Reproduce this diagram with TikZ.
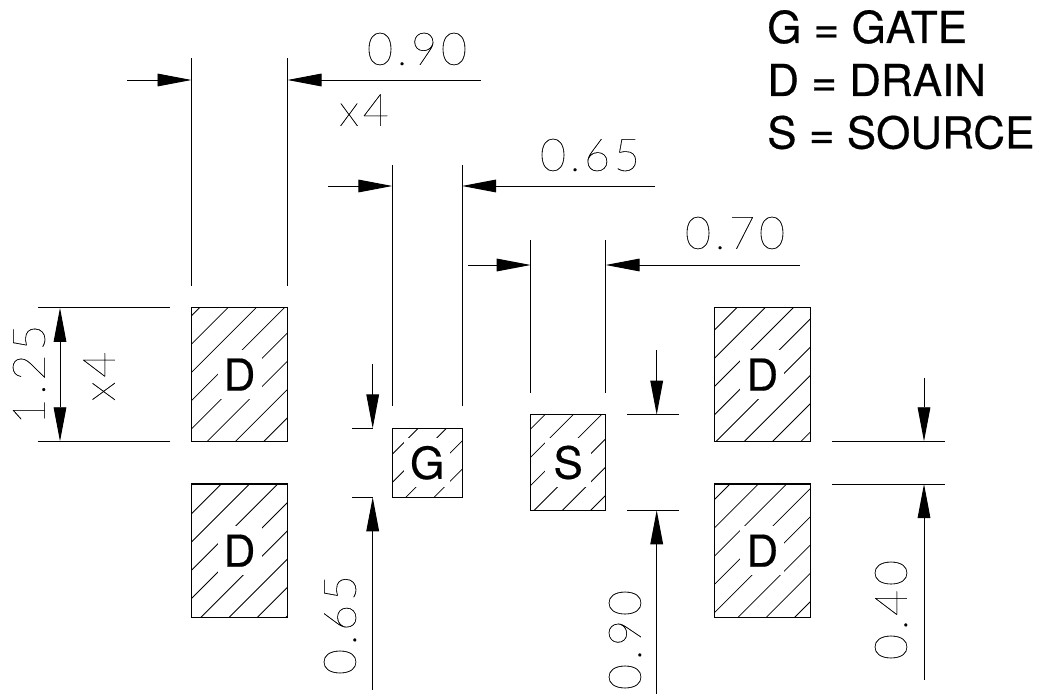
\documentclass[tikz,border=0pt]{standalone}
\usepackage{fontspec}
\setmainfont[FakeBold=0.4]{TeX Gyre Heros}
\newfontfamily\cadfont[LetterSpace=8,FakeBold=0.2]{Lato Thin}
\usetikzlibrary{arrows.meta,calc}
\tikzset{padbox/.style={draw=black,line width=0.8pt,inner sep=0pt,outer sep=0pt},
  padlabel/.style={fill=white,inner sep=0pt,minimum width=33pt,minimum height=36.75pt,font=\fontsize{33}{33}\selectfont},
  dimarrow/.style={line width=0.7pt,-{Triangle[length=25.5pt,width=9.5pt]}},
  extline/.style={line width=0.7pt},
  dimtext/.style={inner sep=0pt,font=\cadfont\fontsize{34}{34}\selectfont},
  keytext/.style={inner sep=0pt,anchor=base west,font=\fontsize{33}{33}\selectfont}}

\begin{document}
\begin{tikzpicture}[x=0.75pt,y=-0.75pt]
\useasboundingbox (0,0) rectangle (1043,698);

\node[padbox,minimum width=72pt,minimum height=100pt] (d1) at (239.5,374.6) {};
\node[padbox,minimum width=72pt,minimum height=100pt] (d2) at (239.5,550.7) {};
\node[padbox,minimum width=72pt,minimum height=100pt] (d3) at (762.3,374.6) {};
\node[padbox,minimum width=72pt,minimum height=100pt] (d4) at (762.3,550.7) {};
\node[padbox,minimum width=52.3pt,minimum height=51.75pt] (g) at (427.2,462.8) {};
\node[padbox,minimum width=56.25pt,minimum height=71.7pt] (s) at (568.2,462.5) {};

% hatching, one set of lines for all pads
\foreach \p in {d1,d2,d3,d4,g,s}
         {
           \begin{scope}
           \clip (\p.north west) rectangle (\p.south east);
           \foreach \k in {0,...,40}
                    {
                      \pgfmathsetmacro{\c}{507.3+28.27*\k}
                      \draw[line width=0.6pt] (\c,0) -- (0,\c);
                    }
           \end{scope}
         }

\node[padlabel] (d1l) at (d1) {D};
\node[padlabel] (d2l) at (d2) {D};
\node[padlabel] (d3l) at (d3) {D};
\node[padlabel] (d4l) at (d4) {D};
\node[padlabel,minimum width=34.5pt] (gl) at (g) {G};
\node[padlabel,minimum width=34.5pt] (sl) at (s) {S};

% key
\node[keytext] (keyg) at (767,43) {G = GATE};
\node[keytext] (keyd) at (767,96) {D = DRAIN};
\node[keytext] (keys) at (767,148.5) {S = SOURCE};

% width dimensions
\coordinate (a90) at (127,80);
\coordinate (b90) at (481,80);
\coordinate (a65) at (328,186);
\coordinate (b65) at (655,186);
\coordinate (a70) at (468,265);
\coordinate (b70) at (800,265);

\draw[extline] (d1.north west |- 0,58) -- (d1.north west |- 0,286);
\draw[extline] (d1.north east |- 0,58) -- (d1.north east |- 0,286);
\draw[extline] (g.north west |- 0,165) -- (g.north west |- 0,406);
\draw[extline] (g.north east |- 0,165) -- (g.north east |- 0,406);
\draw[extline] (s.north west |- 0,240) -- (s.north west |- 0,393);
\draw[extline] (s.north east |- 0,240) -- (s.north east |- 0,393);

\draw[dimarrow] (a90) -- (d1.north west |- a90);
\draw[dimarrow] (b90) -- (d1.north east |- b90);
\draw[dimarrow] (a65) -- (g.north west |- a65);
\draw[dimarrow] (b65) -- (g.north east |- b65);
\draw[dimarrow] (a70) -- (s.north west |- a70);
\draw[dimarrow] (b70) -- (s.north east |- b70);

\node[dimtext] (t90) at (417,49) {0.90};
\node[dimtext] (t65) at (590,155) {0.65};
\node[dimtext] (t70) at (735,233) {0.70};
\node[dimtext] (tx4) at (364,110) {x4};

% height of the drain pads
\coordinate (h125) at (60,374.6);
\draw[extline] (38,0 |- d1.north west) -- (170,0 |- d1.north west);
\draw[extline] (38,0 |- d1.south west) -- (170,0 |- d1.south west);
\draw[dimarrow] (h125) -- (h125 |- d1.north west);
\draw[dimarrow] (h125) -- (h125 |- d1.south west);
\node[dimtext,rotate=90] (t125) at (29,374.6) {1.25};
\node[dimtext,rotate=90] (ty4) at (99,376.5) {x4};

% gate
\coordinate (a65v) at (372.7,364);
\coordinate (b65v) at (372.7,690);
\draw[extline] (352,0 |- g.north west) -- (372.7,0 |- g.north west);
\draw[extline] (352,0 |- g.south west) -- (372.7,0 |- g.south west);
\draw[dimarrow] (a65v) -- (a65v |- g.north west);
\draw[dimarrow] (b65v) -- (b65v |- g.south west);
\node[dimtext,rotate=90] (t65v) at (340,625) {0.65};

% source
\coordinate (a90v) at (656.7,350);
\coordinate (b90v) at (656.7,694);
\draw[extline] (627,0 |- s.north west) -- (679,0 |- s.north west);
\draw[extline] (627,0 |- s.south west) -- (679,0 |- s.south west);
\draw[dimarrow] (a90v) -- (a90v |- s.north west);
\draw[dimarrow] (b90v) -- (b90v |- s.south west);
\node[dimtext,rotate=90] (t90v) at (625,640) {0.90};

% gap between the drain pads
\coordinate (a40v) at (924,378);
\coordinate (b40v) at (924,680);
\draw[extline] (832,0 |- d3.south east) -- (945,0 |- d3.south east);
\draw[extline] (832,0 |- d4.north east) -- (945,0 |- d4.north east);
\draw[dimarrow] (a40v) -- (a40v |- d3.south east);
\draw[dimarrow] (b40v) -- (b40v |- d4.north east);
\node[dimtext,rotate=90] (t40v) at (891,610) {0.40};
\end{tikzpicture}
\end{document}
